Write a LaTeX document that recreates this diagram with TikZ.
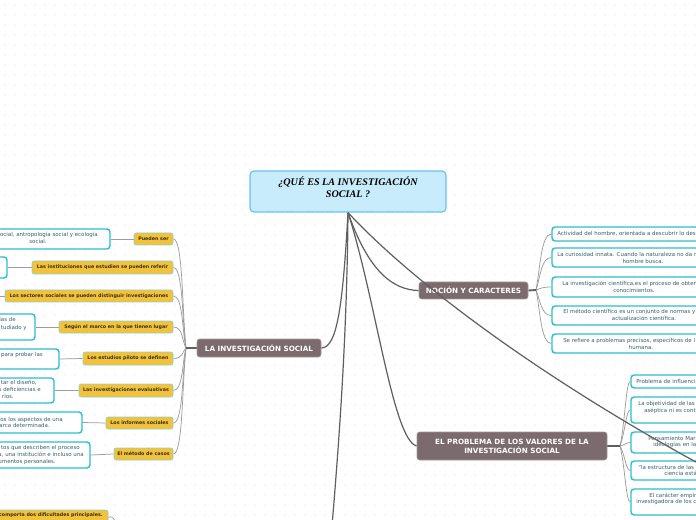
\documentclass[tikz,border=0pt]{standalone}
\usepackage{fontspec}
\setmainfont{DejaVu Sans}
\newfontfamily\titlefont{Liberation Serif}
\usetikzlibrary{fit}
\pgfdeclarelayer{dotslayer}
\pgfdeclarelayer{connlayer}
\pgfsetlayers{dotslayer,connlayer,main}
\definecolor{dotc}{HTML}{E0E0E0}
\definecolor{wcyan}{HTML}{2CC0CF}
\definecolor{wtxt}{HTML}{36606F}
\definecolor{yfill}{HTML}{F1C23A}
\definecolor{yedge}{HTML}{8FD2D4}
\definecolor{ytxt}{HTML}{3A3020}
\definecolor{tfill}{HTML}{7B6B6E}
\definecolor{tedge}{HTML}{A59799}
\definecolor{rfill}{HTML}{C8ECFB}
\definecolor{redge}{HTML}{66C4EC}
\definecolor{cdark}{HTML}{5F5F5F}
\definecolor{cgray}{HTML}{9C9C9C}
\begin{document}
\begin{tikzpicture}[x=0.75pt,y=-0.75pt,
  wbox/.style={draw=wcyan, fill=white, line width=1.1pt, rounded corners=2.4pt, inner sep=0pt},
  ybox/.style={draw=yedge, fill=yfill, line width=0.5pt, rounded corners=1.6pt, inner sep=0pt},
  topic/.style={draw=tedge, fill=tfill, line width=0.5pt, rounded corners=2pt, inner sep=0pt},
  toptext/.style={inner sep=0pt, text=white, align=center, font=\fontsize{5.4}{6.8}\selectfont\bfseries},
  rootbox/.style={draw=redge, fill=rfill, line width=0.9pt, rounded corners=3pt, inner sep=0pt,
     align=center, font=\fontsize{7.6}{9}\selectfont\titlefont\bfseries\itshape},
  wtext/.style={inner sep=0pt, text=wtxt, font=\fontsize{4.1}{4.8}\selectfont,
     text height=2.9pt, text depth=0.9pt},
  ytext/.style={inner sep=0pt, text=ytxt, font=\fontsize{3.6}{4.3}\selectfont\bfseries,
     text height=2.7pt, text depth=0.8pt},
  conn/.style={draw=cdark, line width=0.9pt},
  fan/.style={draw=cgray, line width=0.55pt},
  stub/.style={draw=cdark, line width=1.4pt}
]
\path[use as bounding box, clip] (0,0) rectangle (696,520);
\begin{pgfonlayer}{dotslayer}
\fill[white] (0,0) rectangle (696,520);
\foreach \i in {5,15,...,695} {\foreach \j in {5,15,...,515} {\fill[dotc] (\i,\j) circle (0.45pt);}}
\end{pgfonlayer}

% root
\node[rootbox, fit={(250,171) (446,212)}] (root) {¿QUÉ ES LA INVESTIGACIÓN\\SOCIAL ?};

% topics
\node[topic, fit={(197,339) (321,357)}] (lis) {};
\node[topic, fit={(419,282) (528,299)}] (noc) {};
\node[topic, fit={(417,432) (607,460)}] (prob) {};

% yellow children of LA INVESTIGACION SOCIAL
\node[ybox, fit={(134,233) (173,245)}] (y1) {};
\node[ybox, fit={(32,261) (173,274)}] (y2) {};
\node[ybox, fit={(5,290) (173,302)}] (y3) {};
\node[ybox, fit={(59,321) (173,333)}] (y4) {};
\node[ybox, fit={(83,352) (173,365)}] (y5) {};
\node[ybox, fit={(79,384) (173,397)}] (y6) {};
\node[ybox, fit={(106,417) (173,429)}] (y7) {};
\node[ybox, fit={(114,448) (173,460)}] (y8) {};

% white children (left)
\node[wbox, fit={(-40,229) (110,249)}] (w1) {};
\node[wbox, fit={(-60,257) (7,278)}] (w2) {};
\node[wbox, fit={(-200,288) (-3,304)}] (w3) {};
\node[wbox, fit={(-60,314) (35,340)}] (w4) {};
\node[wbox, fit={(-60,349) (59,369)}] (w5) {};
\node[wbox, fit={(-60,378) (54,403)}] (w6) {};
\node[wbox, fit={(-60,412) (82,433)}] (w7) {};
\node[wbox, fit={(-60,442) (90,468)}] (w8) {};

% bottom-left yellow
\node[ybox, fit={(-60,510) (108,525)}] (yb) {};
\coordinate (ybend) at (117,524);

% NOCION children
\node[wbox, fit={(552,227) (740,241)}] (n1) {};
\node[wbox, fit={(552,248) (740,267)}] (n2) {};
\node[wbox, fit={(552,277) (740,297)}] (n3) {};
\node[wbox, fit={(552,306) (740,325)}] (n4) {};
\node[wbox, fit={(552,334) (740,353)}] (n5) {};

% PROBLEMA children
\node[wbox, fit={(631,375) (740,388)}] (p1) {};
\node[wbox, fit={(631,397) (740,423)}] (p2) {};
\node[wbox, fit={(631,432) (740,453)}] (p3) {};
\node[wbox, fit={(631,461) (740,480)}] (p4) {};
\node[wbox, fit={(631,489) (740,515)}] (p5) {};

\coordinate (lisj) at (186,348);
\coordinate (nocj) at (536,290);
\coordinate (probj) at (620,446);
\coordinate (rEnd) at (720,475);
\coordinate (bEnd) at (332,526);

% connectors beneath the boxes
\begin{pgfonlayer}{connlayer}
\draw[fan] (yb.east) .. controls (112,516) .. (ybend);
\draw[fan] (y1.west) -- (w1.east);
\draw[fan] (y2.west) -- (w2.east);
\draw[fan] (y3.west) -- (w3.east);
\draw[fan] (y4.west) -- (w4.east);
\draw[fan] (y5.west) -- (w5.east);
\draw[fan] (y6.west) -- (w6.east);
\draw[fan] (y7.west) -- (w7.east);
\draw[fan] (y8.west) -- (w8.east);

\draw[fan] (lisj) .. controls (182,310) and (183,239) .. (y1.east);
\draw[fan] (lisj) .. controls (182,320) and (183,267.5) .. (y2.east);
\draw[fan] (lisj) .. controls (182,330) and (183,296) .. (y3.east);
\draw[fan] (lisj) .. controls (182,341) and (183,327) .. (y4.east);
\draw[fan] (lisj) .. controls (182,352) and (183,358.5) .. (y5.east);
\draw[fan] (lisj) .. controls (182,363) and (183,390.5) .. (y6.east);
\draw[fan] (lisj) .. controls (182,374) and (183,423) .. (y7.east);
\draw[fan] (lisj) .. controls (182,385) and (183,454) .. (y8.east);
\draw[stub] (lis.west) -- (lisj);

\draw[fan] (nocj) .. controls (540,270) and (541,234) .. (n1.west);
\draw[fan] (nocj) .. controls (540,279) and (541,257.5) .. (n2.west);
\draw[fan] (nocj) .. controls (540,289) and (541,287) .. (n3.west);
\draw[fan] (nocj) .. controls (540,299) and (541,315.5) .. (n4.west);
\draw[fan] (nocj) .. controls (540,309) and (541,343.5) .. (n5.west);
\draw[stub] (noc.east) -- (nocj);

\draw[fan] (probj) .. controls (625,423) and (626,381.5) .. (p1.west);
\draw[fan] (probj) .. controls (625,433) and (626,410) .. (p2.west);
\draw[fan] (probj) .. controls (625,445) and (626,442.5) .. (p3.west);
\draw[fan] (probj) .. controls (625,455) and (626,470.5) .. (p4.west);
\draw[fan] (probj) .. controls (625,466) and (626,502) .. (p5.west);
\draw[stub] (prob.east) -- (probj);

\draw[conn] (root.south) .. controls (343,300) and (338,348) .. (lis.east);
\draw[conn] (root.south) .. controls (368,270) and (392,290) .. (noc.west);
\draw[conn] (root.south) .. controls (376,300) and (393,440) .. (prob.west);
\draw[conn] (root.south) .. controls (347,330) and (340,430) .. (bEnd);
\end{pgfonlayer}

% texts
\node[toptext] (lisT) at (lis.center) {LA INVESTIGACIÓN SOCIAL};
\node[toptext] (nocT) at (noc.center) {NOCIÓN Y CARACTERES};
\node[toptext] (probT) at (prob.center) {EL PROBLEMA DE LOS VALORES DE LA\\INVESTIGACIÓN SOCIAL};

\node[ytext] (y1T) at (y1.center) {Pueden ser};
\node[ytext] (y2T) at (y2.center) {Las instituciones que estudien se pueden referir};
\node[ytext] (y3T) at (y3.center) {Los sectores sociales se pueden distinguir investigaciones};
\node[ytext] (y4T) at (y4.center) {Según el marco en la que tienen lugar};
\node[ytext] (y5T) at (y5.center) {Los estudios piloto se definen};
\node[ytext] (y6T) at (y6.center) {Las investigaciones evaluativas};
\node[ytext] (y7T) at (y7.center) {Los informes sociales};
\node[ytext] (y8T) at (y8.center) {El método de casos};
\node[ytext, anchor=east] (ybt) at (103,515.5) {comporta dos dificultades principales.};

\node[wtext, anchor=east] (w1a) at (98,235) {ocial, antropología social y ecología};
\node[wtext] (w1b) at (38,242.5) {social.};
\node[wtext, anchor=east] (w4a) at (16,320) {las de};
\node[wtext, anchor=east] (w4b) at (27,328) {tudiado y};
\node[wtext, anchor=east] (w5a) at (43,355) {para probar las};
\node[wtext, anchor=east] (w6a) at (37,383) {tar el diseño,};
\node[wtext, anchor=east] (w6b) at (41,390) {s deficiencias e};
\node[wtext, anchor=east] (w6c) at (14,397.5) {rios.};
\node[wtext, anchor=east] (w7a) at (63,420) {tos los aspectos de una};
\node[wtext, anchor=east] (w7b) at (50,426.5) {arca determinada.};
\node[wtext, anchor=east] (w8a) at (80,448) {tos que describen el proceso};
\node[wtext, anchor=east] (w8b) at (84,455) {a, una institución e incluso una};
\node[wtext, anchor=east] (w8c) at (56,462) {umentos personales.};

\node[wtext, anchor=west] (n1a) at (557,234) {Actividad del hombre, orientada a descubrir lo des};
\node[wtext, anchor=west] (n2a) at (557,255) {La curiosidad innata. Cuando la naturaleza no da re};
\node[wtext] (n2b) at (643,262) {hombre busca.};
\node[wtext, anchor=west] (n3a) at (562,284) {La investigación científica,es el proceso de obten};
\node[wtext] (n3b) at (634,291) {conocimientos.};
\node[wtext, anchor=west] (n4a) at (563,312.5) {El método científico es un conjunto de normas y};
\node[wtext] (n4b) at (644,319) {actualización científica.};
\node[wtext, anchor=west] (n5a) at (563,341) {Se refiere a problemas precisos, específicos de l};
\node[wtext] (n5b) at (641,348) {humana.};

\node[wtext, anchor=west] (p1a) at (636,382) {Problema de influencia};
\node[wtext, anchor=west] (p2a) at (638,404) {La objetividad de las};
\node[wtext, anchor=west] (p2b) at (644,411) {aséptica ni es cont};
\node[wtext, anchor=west] (p3a) at (648,439) {Pensamiento Mar};
\node[wtext, anchor=west] (p3b) at (653,445.5) {ideologías en la};
\node[wtext, anchor=west] (p4a) at (638,468) {“la estructura de las};
\node[wtext, anchor=west] (p4b) at (664,474.5) {ciencia está};
\node[wtext, anchor=west] (p5a) at (649,496) {El carácter empír};
\node[wtext, anchor=west] (p5b) at (636,502.5) {investigadora de los c};

% long connector drawn over the boxes
\draw[conn] (root.south) .. controls (420,290) and (560,390) .. (rEnd);
\end{tikzpicture}
\end{document}
